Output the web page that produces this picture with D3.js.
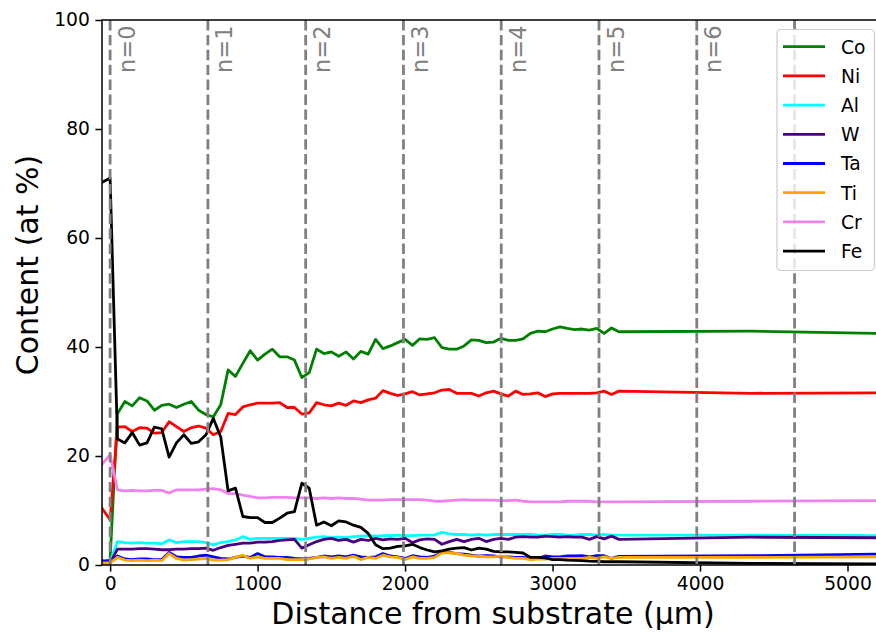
<!DOCTYPE html>
<html>
<head>
<meta charset="utf-8">
<script src="https://cdn.jsdelivr.net/npm/d3@7/dist/d3.min.js"></script>
<style>
  html, body { margin: 0; padding: 0; background: #fff; }
  svg { display: block; font-family: "DejaVu Sans", sans-serif; }
</style>
</head>
<body>
<svg id="chart" width="876" height="632"></svg>
<script>
// ---- data ----
const distance = [-55, 0, 50, 100, 150, 200, 250, 300, 350, 400, 450, 500, 550, 600, 650, 700, 750, 800, 850, 900,
  950, 1000, 1050, 1100, 1150, 1200, 1250, 1300, 1350, 1400, 1450, 1500, 1550, 1600, 1650, 1700, 1750, 1800, 1850, 1900,
  1950, 2000, 2050, 2100, 2150, 2200, 2250, 2300, 2350, 2400, 2450, 2500, 2550, 2600, 2650, 2700, 2750, 2800, 2850, 2900,
  2950, 3000, 3050, 3100, 3150, 3200, 3250, 3300, 3350, 3400, 3450, 4350, 5200];

const Co = [0.5, 1.0, 27.8, 30.0, 29.2, 30.7, 30.1, 28.4, 29.3, 29.5, 28.9, 29.5, 30.0, 28.4, 27.6, 27.2, 29.4, 35.8, 34.6, 37.0,
  39.3, 37.6, 38.7, 39.6, 38.2, 38.2, 37.6, 34.4, 35.3, 39.6, 38.8, 39.1, 38.3, 39.1, 37.8, 39.2, 38.7, 41.4, 39.7, 40.2,
  40.8, 41.4, 40.3, 41.5, 41.4, 41.7, 39.9, 39.6, 39.6, 40.2, 41.3, 41.2, 40.8, 40.9, 41.6, 41.2, 41.2, 41.5, 42.5, 42.9,
  42.8, 43.3, 43.7, 43.4, 43.2, 43.3, 43.1, 43.4, 42.5, 43.5, 42.8, 42.9, 42.5];

const Ni = [10.4, 8.3, 25.3, 25.4, 24.5, 25.2, 25.1, 24.2, 24.3, 26.3, 25.4, 24.5, 25.2, 25.5, 25.1, 23.9, 24.5, 27.8, 27.6, 29.0,
  29.4, 29.7, 29.7, 29.7, 29.8, 28.9, 28.9, 27.7, 27.9, 29.8, 29.4, 29.2, 29.7, 29.3, 30.1, 29.8, 30.3, 30.6, 32.0, 31.5,
  31.1, 31.4, 31.8, 31.2, 31.4, 31.6, 32.1, 32.2, 31.5, 31.5, 31.5, 31.0, 31.6, 31.9, 31.4, 31.0, 31.9, 31.3, 31.4, 31.6,
  30.9, 31.4, 31.5, 31.5, 31.5, 31.5, 31.5, 31.6, 31.9, 31.3, 31.9, 31.5, 31.6];

const Al = [0.5, 0.6, 4.3, 4.1, 4.0, 4.1, 4.0, 4.0, 3.9, 4.6, 4.1, 4.3, 4.3, 4.3, 4.1, 3.7, 4.1, 4.3, 4.6, 5.2,
  4.7, 4.9, 4.9, 4.9, 4.9, 4.9, 4.9, 4.7, 4.9, 5.1, 5.2, 5.0, 5.1, 5.0, 5.2, 5.3, 5.4, 5.3, 5.4, 5.4,
  5.5, 5.4, 5.4, 5.5, 5.5, 5.5, 6.0, 5.7, 5.6, 5.6, 5.5, 5.6, 5.5, 5.6, 5.6, 5.6, 5.6, 5.6, 5.6, 5.5,
  5.5, 5.6, 5.6, 5.5, 5.5, 5.6, 5.6, 5.5, 5.6, 5.5, 5.5, 5.5, 5.4];

const W = [0.3, 0.4, 2.9, 2.9, 2.9, 3.0, 3.0, 2.9, 2.8, 2.8, 2.9, 2.9, 3.0, 3.0, 3.1, 2.7, 3.2, 3.6, 3.8, 4.0,
  4.0, 4.2, 4.2, 4.3, 4.5, 4.6, 4.7, 3.1, 3.7, 4.3, 4.7, 4.9, 4.5, 4.7, 4.2, 4.7, 4.5, 4.9, 4.6, 4.8,
  4.7, 4.9, 4.1, 4.6, 4.8, 4.7, 3.8, 4.3, 4.7, 4.3, 4.7, 4.9, 4.3, 4.7, 4.9, 4.7, 5.1, 5.2, 5.1, 5.1,
  5.3, 5.2, 5.1, 5.2, 5.1, 5.1, 4.7, 5.2, 4.8, 5.3, 4.7, 5.1, 5.0];

const Ta = [0.8, 0.6, 1.65, 1.1, 1.0, 1.1, 1.1, 1.0, 1.0, 2.3, 1.5, 1.4, 1.4, 1.65, 1.8, 1.5, 1.2, 1.1, 1.4, 1.65,
  1.4, 2.1, 1.5, 1.5, 1.4, 1.4, 1.2, 1.1, 1.2, 1.4, 1.65, 1.5, 1.65, 1.5, 1.8, 1.5, 1.4, 1.5, 2.1, 1.65,
  1.5, 1.2, 1.7, 1.5, 1.4, 1.65, 2.3, 2.3, 2.1, 2.0, 1.8, 1.65, 1.7, 1.65, 1.5, 1.5, 1.4, 1.4, 1.2, 1.2,
  1.65, 1.5, 1.5, 1.65, 1.65, 1.7, 1.5, 1.7, 1.7, 1.2, 1.6, 1.7, 2.0];

const Ti = [0.4, 0.4, 1.4, 0.9, 0.8, 0.9, 0.8, 0.9, 0.8, 2.1, 1.2, 0.9, 1.0, 1.1, 1.2, 0.9, 0.9, 1.0, 1.4, 1.8,
  1.2, 1.5, 1.2, 1.2, 1.2, 1.0, 1.0, 1.0, 1.1, 1.4, 1.5, 1.2, 1.4, 1.2, 1.6, 1.0, 1.4, 1.2, 1.8, 1.5,
  1.4, 1.0, 1.5, 1.2, 1.2, 1.4, 2.25, 2.25, 2.1, 1.8, 1.65, 1.65, 1.5, 1.5, 1.65, 1.4, 1.2, 1.2, 1.0, 1.1,
  1.1, 1.2, 1.2, 1.2, 1.2, 1.2, 1.4, 1.2, 1.5, 1.2, 1.4, 1.4, 1.5];

const Cr = [18.5, 20.2, 13.8, 13.6, 13.7, 13.6, 13.6, 13.7, 13.7, 13.2, 13.8, 13.8, 13.8, 13.8, 13.9, 14.0, 13.8, 13.1, 13.1, 12.8,
  12.6, 12.3, 12.3, 12.4, 12.4, 12.4, 12.3, 12.3, 12.3, 12.2, 12.3, 12.2, 12.3, 12.2, 12.2, 12.1, 11.9, 11.9, 11.9, 12.0,
  12.0, 12.0, 12.0, 12.0, 11.9, 11.7, 11.7, 11.8, 11.9, 12.0, 11.9, 11.9, 11.9, 11.9, 11.8, 11.8, 11.9, 11.7, 11.6, 11.6,
  11.6, 11.6, 11.6, 11.7, 11.7, 11.7, 11.7, 11.6, 11.6, 11.6, 11.6, 11.7, 11.8];

const Fe = [70.2, 71.0, 23.1, 22.4, 24.3, 22.0, 22.4, 25.3, 25.0, 19.8, 22.4, 23.9, 22.3, 22.6, 23.9, 26.9, 23.5, 13.6, 14.1, 8.9,
  8.7, 8.7, 7.8, 7.8, 8.6, 9.5, 9.8, 15.0, 14.1, 7.3, 7.9, 7.2, 8.1, 7.9, 7.3, 6.9, 5.8, 3.7, 3.0, 3.1,
  3.4, 3.5, 3.8, 3.2, 2.75, 2.4, 2.6, 2.9, 3.1, 3.2, 2.75, 3.1, 2.9, 2.5, 2.4, 2.4, 2.3, 2.2, 1.4, 1.4,
  1.3, 1.0, 1.0, 0.9, 0.85, 0.8, 0.7, 0.65, 0.6, 0.6, 0.6, 0.3, 0.2];

const seriesNames = ["Co", "Ni", "Al", "W", "Ta", "Ti", "Cr", "Fe"];
const seriesValues = [Co, Ni, Al, W, Ta, Ti, Cr, Fe];
const seriesColors = ["green", "red", "cyan", "indigo", "blue", "orange", "violet", "black"];

const layerPositions = [0, 663, 1326, 1989, 2652, 3315, 3978, 4641];
const layerLabels = ["n=0", "n=1", "n=2", "n=3", "n=4", "n=5", "n=6", ""];

const xTicks = [0, 1000, 2000, 3000, 4000, 5000];
const yTicks = [0, 20, 40, 60, 80, 100];

// ---- layout ----
const svg = d3.select("#chart");
const L = 102, R = 877, T = 20, B = 565;
const x = d3.scaleLinear().domain([-55, 5200]).range([L, R]);
const y = d3.scaleLinear().domain([0, 100]).range([B, T]);

svg.append("defs").append("clipPath").attr("id", "clip")
  .append("rect").attr("x", L).attr("y", T).attr("width", R - L).attr("height", B - T);

const plot = svg.append("g").attr("clip-path", "url(#clip)");

const line = d3.line().x((d, i) => x(distance[i])).y(d => y(d));
seriesValues.forEach((vals, k) => {
  plot.append("path")
    .datum(vals)
    .attr("d", line)
    .attr("fill", "none")
    .attr("stroke", seriesColors[k])
    .attr("stroke-width", 2.8)
    .attr("stroke-linejoin", "round")
    .attr("stroke-linecap", "square");
});

// vertical dashed lines
layerPositions.forEach((p, i) => {
  plot.append("line")
    .attr("x1", x(p)).attr("x2", x(p))
    .attr("y1", T).attr("y2", B)
    .attr("stroke", "gray")
    .attr("stroke-width", 2.8)
    .attr("stroke-dasharray", "10.4,4.5");
  if (layerLabels[i]) {
    plot.append("text")
      .attr("transform", `translate(${x(p) + 24.5},${25.5}) rotate(-90)`)
      .attr("text-anchor", "end")
      .attr("fill", "gray")
      .attr("font-size", 22.5)
      .text(layerLabels[i]);
  }
});

// axes
const xAxis = d3.axisBottom(x).tickValues(xTicks).tickSize(6.6).tickPadding(5.5).tickFormat(d3.format("d"));
const yAxis = d3.axisLeft(y).tickValues(yTicks).tickSize(6.6).tickPadding(5.5).tickFormat(d3.format("d"));

const gx = svg.append("g").attr("transform", `translate(0,${B})`).call(xAxis);
const gy = svg.append("g").attr("transform", `translate(${L},0)`).call(yAxis);
[gx, gy].forEach(g => {
  g.selectAll("text").attr("font-size", 18.7).attr("fill", "#000").attr("font-family", "DejaVu Sans");
  g.selectAll("line").attr("stroke", "#000").attr("stroke-width", 1.5);
  g.select(".domain").remove();
});

// spines
svg.append("rect").attr("x", L).attr("y", T).attr("width", R - L).attr("height", B - T)
  .attr("fill", "none").attr("stroke", "#000").attr("stroke-width", 1.5);

// axis labels
svg.append("text")
  .attr("x", 493).attr("y", 624)
  .attr("text-anchor", "middle")
  .attr("font-size", 30)
  .text("Distance from substrate (µm)");
svg.append("text")
  .attr("transform", `translate(38,265) rotate(-90)`)
  .attr("text-anchor", "middle")
  .attr("font-size", 30)
  .text("Content (at %)");

// legend
const lg = svg.append("g");
lg.append("rect")
  .attr("x", 777).attr("y", 29.5).attr("width", 97.5).attr("height", 241)
  .attr("rx", 4).attr("ry", 4)
  .attr("fill", "white").attr("fill-opacity", 0.8)
  .attr("stroke", "#cccccc").attr("stroke-width", 1.2);
seriesNames.forEach((name, i) => {
  const cy = 46.7 + i * 29.2;
  lg.append("line")
    .attr("x1", 783).attr("x2", 825).attr("y1", cy).attr("y2", cy)
    .attr("stroke", seriesColors[i]).attr("stroke-width", 2.8);
  lg.append("text")
    .attr("x", 841).attr("y", cy + 6.8)
    .attr("font-size", 18.7)
    .text(name);
});
</script>
</body>
</html>
